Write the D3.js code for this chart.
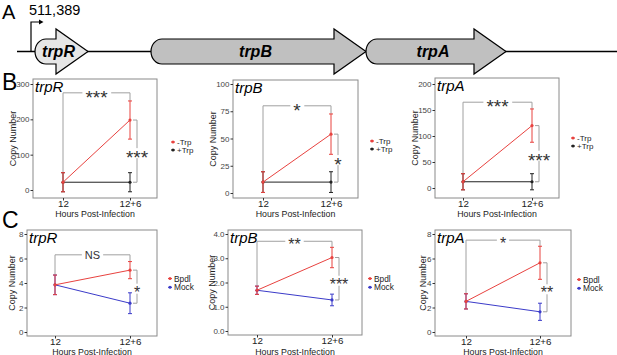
<!DOCTYPE html>
<html>
<head>
<meta charset="utf-8">
<script src="https://cdn.jsdelivr.net/npm/d3@7"></script>
<style>
body { margin: 0; background: #fff; }
text { font-family: "Liberation Sans", Arial, sans-serif; }
</style>
</head>
<body>
<script>
// ---------- data ----------
var timepoints = ["12", "12+6"];

// operon map (bp from the transcription start, diagram units)
var geneNames = ["trpR", "trpB", "trpA"];
var geneStart = [40, 1200, 3350];
var geneEnd = [570, 3350, 4750];
var promoterLabel = "511,389";

// row B: -Trp / +Trp, mean and error
var legendB = ["-Trp", "+Trp"];
var trpR_minusTrp = [22, 198], trpR_minusTrp_err = [27, 54];
var trpR_plusTrp = [22, 22], trpR_plusTrp_err = [27, 27];
var trpB_minusTrp = [10, 54], trpB_minusTrp_err = [9.5, 18.5];
var trpB_plusTrp = [10, 10], trpB_plusTrp_err = [9.5, 9.5];
var trpA_minusTrp = [12, 120], trpA_minusTrp_err = [15.5, 32];
var trpA_plusTrp = [12, 12], trpA_plusTrp_err = [15.5, 15.5];
var ticksB = [[0, 100, 200, 300], [0, 25, 50, 75, 100], [0, 50, 100, 150, 200]];
var sigTimeB = ["***", "*", "***"], sigTimeB_at = [275, 80, 165];
var sigTrtB = ["***", "*", "***"];

// row C: Bpdl / Mock
var legendC = ["Bpdl", "Mock"];
var trpR_bpdl = [3.85, 5.05], trpR_bpdl_err = [0.8, 0.7];
var trpR_mock = [3.85, 2.35], trpR_mock_err = [0.8, 0.85];
var trpB_bpdl = [1.68, 3.03], trpB_bpdl_err = [0.17, 0.42];
var trpB_mock = [1.68, 1.28], trpB_mock_err = [0.17, 0.24];
var trpA_bpdl = [2.5, 5.65], trpA_bpdl_err = [0.62, 1.35];
var trpA_mock = [2.5, 1.65], trpA_mock_err = [0.62, 0.7];
var ticksC = [[0, 2, 4, 6, 8], [0, 1, 2, 3, 4], [0, 2, 4, 6, 8]];
var sigTimeC = ["NS", "**", "*"], sigTimeC_at = [6.3, 3.7, 7.5];
var sigTrtC = ["*", "***", "**"];

// ---------- drawing ----------
var width = 617, height = 355;
var red = "#e8423f", blue = "#3b3bc9", black = "#222";

var svg = d3.select("body").append("svg")
  .attr("width", width)
  .attr("height", height);

// panel A
var gx = d3.scaleLinear().domain([0, 1000]).range([31, 131]);
var cy = 51.5;

svg.append("text").attr("x", 2).attr("y", 19).attr("font-size", 20).text("A");

svg.append("line")
  .attr("x1", gx(-140)).attr("x2", width)
  .attr("y1", cy).attr("y2", cy)
  .attr("stroke", "#000").attr("stroke-width", 1.3);

function genePath(s, e) {
  var rx = 11, head = 32;
  var top = cy - 12.5, bot = cy + 12.5, htop = cy - 22.5, hbot = cy + 22.5;
  var b = e - head;
  return "M" + (s + rx) + "," + top + "H" + b + "V" + htop + "L" + e + "," + cy +
    "L" + b + "," + hbot + "V" + bot + "H" + (s + rx) +
    "A" + rx + "," + 12.5 + " 0 0 1 " + (s + rx) + "," + top + "Z";
}

var genes = svg.selectAll(".gene")
  .data(geneNames)
  .enter()
  .append("g")
  .attr("class", "gene");

genes.append("path")
  .attr("d", function(d, i) { return genePath(gx(geneStart[i]), gx(geneEnd[i])); })
  .attr("fill", function(d, i) { return i == 0 ? "#e6e6e6" : "#c0c0c0"; })
  .attr("stroke", "#000")
  .attr("stroke-width", 1.2);

genes.append("text")
  .attr("x", function(d, i) { return (gx(geneStart[i]) + gx(geneEnd[i])) / 2 - 3; })
  .attr("y", cy + 5.5)
  .attr("text-anchor", "middle")
  .attr("font-size", 16)
  .attr("font-weight", "bold")
  .attr("font-style", "italic")
  .text(function(d) { return d; });

// promoter arrow
svg.append("path")
  .attr("d", "M" + gx(0) + "," + cy + "V22H" + (gx(0) + 9))
  .attr("fill", "none").attr("stroke", "#000").attr("stroke-width", 1.2);
svg.append("path")
  .attr("d", "M" + (gx(0) + 8) + ",19.5L" + (gx(0) + 12.5) + ",22L" + (gx(0) + 8) + ",24.5Z")
  .attr("fill", "#000");
svg.append("text").attr("x", gx(0) - 2).attr("y", 15).attr("font-size", 14.5).text(promoterLabel);

// panels B and C
var panels = [
  { gene: "trpR", box: [33, 157, 79, 198], xr: [63, 130], yr: [190, 84], ticks: ticksB[0],
    series: [{ name: legendB[0], v: trpR_minusTrp, e: trpR_minusTrp_err, c: red },
             { name: legendB[1], v: trpR_plusTrp, e: trpR_plusTrp_err, c: black }],
    top: sigTimeB[0], topAt: sigTimeB_at[0], right: sigTrtB[0], astSize: 19,
    leg: [173, 142], legSize: 8, legGap: 8, titleX: 13, label: "B", labelY: 90, titleY: 217 },
  { gene: "trpB", box: [233, 358, 80, 198], xr: [263, 331], yr: [193, 84], ticks: ticksB[1],
    series: [{ name: legendB[0], v: trpB_minusTrp, e: trpB_minusTrp_err, c: red },
             { name: legendB[1], v: trpB_plusTrp, e: trpB_plusTrp_err, c: black }],
    top: sigTimeB[1], topAt: sigTimeB_at[1], right: sigTrtB[1], astSize: 19,
    leg: [372, 141], legSize: 8, legGap: 8, titleX: 213, titleY: 217 },
  { gene: "trpA", box: [435, 559, 78, 198], xr: [463, 532], yr: [188, 84], ticks: ticksB[2],
    series: [{ name: legendB[0], v: trpA_minusTrp, e: trpA_minusTrp_err, c: red },
             { name: legendB[1], v: trpA_plusTrp, e: trpA_plusTrp_err, c: black }],
    top: sigTimeB[2], topAt: sigTimeB_at[2], right: sigTrtB[2], astSize: 19,
    leg: [573, 138], legSize: 8, legGap: 8, titleX: 415, titleY: 217 },
  { gene: "trpR", box: [27, 157, 230, 336], xr: [55, 130], yr: [332, 234], ticks: ticksC[0],
    series: [{ name: legendC[0], v: trpR_bpdl, e: trpR_bpdl_err, c: red },
             { name: legendC[1], v: trpR_mock, e: trpR_mock_err, c: blue }],
    top: sigTimeC[0], topAt: sigTimeC_at[0], right: sigTrtC[0], astSize: 16,
    leg: [170, 278.5], legSize: 8.3, legGap: 8.8, titleX: 12, label: "C", labelY: 228, titleY: 354.5 },
  { gene: "trpB", box: [228, 362, 230, 335], xr: [257, 332], yr: [331, 234], ticks: ticksC[1],
    series: [{ name: legendC[0], v: trpB_bpdl, e: trpB_bpdl_err, c: red },
             { name: legendC[1], v: trpB_mock, e: trpB_mock_err, c: blue }],
    top: sigTimeC[1], topAt: sigTimeC_at[1], right: sigTrtC[1], astSize: 16,
    leg: [370, 278.5], legSize: 8.3, legGap: 8.8, titleX: 212, titleY: 354.5 },
  { gene: "trpA", box: [435, 571, 230, 336], xr: [466, 540], yr: [332, 234], ticks: ticksC[2],
    series: [{ name: legendC[0], v: trpA_bpdl, e: trpA_bpdl_err, c: red },
             { name: legendC[1], v: trpA_mock, e: trpA_mock_err, c: blue }],
    top: sigTimeC[2], topAt: sigTimeC_at[2], right: sigTrtC[2], astSize: 16,
    leg: [579, 279.5], legSize: 8.3, legGap: 8.8, titleX: 423, titleY: 354.5 }
];

function sigLabel(g, txt, cx, cyy, astSize) {
  var isAst = txt.indexOf("*") >= 0;
  var fs = isAst ? astSize : 11;
  var t = g.append("text")
    .attr("x", cx)
    .attr("y", cyy + (isAst ? 0.57 : 0.36) * fs)
    .attr("text-anchor", "middle")
    .attr("font-size", fs)
    .attr("fill", "#333")
    .text(txt);
  var bb = t.node().getBBox();
  g.insert("rect", function() { return t.node(); })
    .attr("x", bb.x - 3).attr("width", bb.width + 6)
    .attr("y", cyy - 5).attr("height", 10)
    .attr("fill", "#fff");
}

panels.forEach(function(p) {
  var g = svg.append("g");
  var x0 = p.box[0], x1 = p.box[1], y0 = p.box[2], y1 = p.box[3];
  var x = d3.scalePoint().domain(timepoints).range(p.xr);
  var y = d3.scaleLinear().domain([0, d3.max(p.ticks)]).range(p.yr);

  if (p.label) {
    g.append("text").attr("x", 2).attr("y", p.labelY).attr("font-size", 23).text(p.label);
  }

  g.append("rect")
    .attr("x", x0).attr("y", y0)
    .attr("width", x1 - x0).attr("height", y1 - y0)
    .attr("fill", "#fff").attr("stroke", "#8a8a8a").attr("stroke-width", 1);

  var ya = g.append("g")
    .attr("transform", "translate(" + x0 + ",0)")
    .call(d3.axisLeft(y).tickValues(p.ticks).tickSize(2.5).tickPadding(1));
  ya.select(".domain").remove();
  ya.selectAll("line").attr("stroke", "#333");
  ya.selectAll("text").attr("font-size", 8).attr("fill", "#444").attr("font-family", null);

  var xa = g.append("g")
    .attr("transform", "translate(0," + y1 + ")")
    .call(d3.axisBottom(x).tickSize(2.5).tickPadding(0));
  xa.select(".domain").remove();
  xa.selectAll("line").attr("stroke", "#333");
  xa.selectAll("text").attr("font-size", 9.8).attr("fill", "#222").attr("font-family", null);

  g.append("text")
    .attr("x", (x0 + x1) / 2)
    .attr("y", p.titleY)
    .attr("text-anchor", "middle")
    .attr("font-size", 8.8)
    .attr("fill", "#222")
    .text("Hours Post-Infection");

  g.append("text")
    .attr("transform", "translate(" + (p.titleX + 3) + "," + ((y0 + y1) / 2) + ") rotate(-90)")
    .attr("text-anchor", "middle")
    .attr("font-size", 9)
    .attr("fill", "#222")
    .text("Copy Number");

  g.append("text")
    .attr("x", x0 + 2).attr("y", y0 + 13)
    .attr("font-size", 15).attr("font-style", "italic")
    .text(p.gene);

  // significance brackets
  var s0 = p.series[0], s1 = p.series[1];
  var xa0 = x(timepoints[0]), xa1 = x(timepoints[1]);
  var ty = y(p.topAt);
  g.append("path")
    .attr("d", "M" + xa0 + "," + y(s0.v[0] + s0.e[0]) + "V" + ty + "H" + xa1 + "V" + y(s0.v[1] + s0.e[1]))
    .attr("fill", "none").attr("stroke", "#a0a0a0").attr("stroke-width", 1);
  sigLabel(g, p.top, (xa0 + xa1) / 2, ty, p.astSize);

  var bx = xa1 + 7;
  g.append("path")
    .attr("d", "M" + (xa1 + 3) + "," + y(s0.v[1]) + "H" + bx + "V" + y(s1.v[1]) + "H" + (xa1 + 3))
    .attr("fill", "none").attr("stroke", "#a0a0a0").attr("stroke-width", 1);
  sigLabel(g, p.right, bx, (y(s0.v[1]) + y(s1.v[1])) / 2 + 2, p.astSize);

  // series (second drawn first so the first sits on top)
  p.series.slice().reverse().forEach(function(s) {
    var line = d3.line()
      .x(function(d, i) { return x(timepoints[i]); })
      .y(function(d) { return y(d); });
    g.append("path").datum(s.v)
      .attr("d", line)
      .attr("fill", "none").attr("stroke", s.c).attr("stroke-width", 1);

    g.selectAll(null).data(s.v).enter().append("path")
      .attr("d", function(d, i) {
        var xx = x(timepoints[i]), lo = y(d - s.e[i]), hi = y(d + s.e[i]);
        return "M" + (xx - 2) + "," + hi + "H" + (xx + 2) + "M" + xx + "," + hi + "V" + lo +
          "M" + (xx - 2) + "," + lo + "H" + (xx + 2);
      })
      .attr("fill", "none").attr("stroke", s.c).attr("stroke-width", 1);

    g.selectAll(null).data(s.v).enter().append("circle")
      .attr("cx", function(d, i) { return x(timepoints[i]); })
      .attr("cy", function(d) { return y(d); })
      .attr("r", 1.6)
      .attr("fill", s.c);
  });

  // legend
  p.series.forEach(function(s, i) {
    var ly = p.leg[1] + i * p.legGap;
    g.append("line")
      .attr("x1", p.leg[0] - 2).attr("x2", p.leg[0] + 2)
      .attr("y1", ly).attr("y2", ly)
      .attr("stroke", s.c).attr("stroke-width", 1);
    g.append("circle").attr("cx", p.leg[0]).attr("cy", ly).attr("r", 1.5).attr("fill", s.c);
    g.append("text")
      .attr("x", p.leg[0] + 4).attr("y", ly + 3)
      .attr("font-size", p.legSize).attr("fill", "#222")
      .text(s.name);
  });
});
</script>
</body>
</html>
